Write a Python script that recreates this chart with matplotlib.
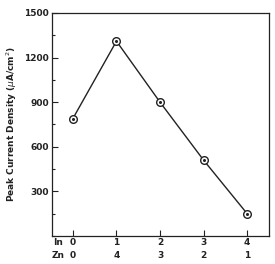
import matplotlib
matplotlib.use("Agg")
import matplotlib.pyplot as plt
from matplotlib.ticker import MultipleLocator

# Data
x_pos = [0, 1, 2, 3, 4]
in_labels = ["0", "1", "2", "3", "4"]
zn_labels = ["0", "4", "3", "2", "1"]
peak_density = [790, 1310, 900, 510, 150]
y_ticks = [300, 600, 900, 1200, 1500]

fig = plt.figure(figsize=(2.75, 2.64), dpi=100)
ax = fig.add_axes([0.189, 0.106, 0.789, 0.845])

ink = "#222222"
ax.plot(x_pos, peak_density, color=ink, lw=1.0, marker="o", ms=5.5,
        mfc="white", mec=ink, mew=1.0, zorder=3)
ax.plot(x_pos, peak_density, ls="none", marker="o", ms=1.2, color=ink, zorder=4)

ax.set_xlim(-0.48, 4.5)
ax.set_ylim(0, 1500)
ax.set_yticks(y_ticks)
ax.set_yticklabels([str(v) for v in y_ticks], fontsize=6.5, fontweight="bold", color=ink)
ax.yaxis.set_minor_locator(MultipleLocator(150))
ax.set_xticks(x_pos)
ax.set_xticklabels([f"{a}\n{b}" for a, b in zip(in_labels, zn_labels)],
                   fontsize=6.5, fontweight="bold", color=ink, linespacing=1.5)
ax.tick_params(axis="both", which="both", direction="in", color=ink, width=0.8)
ax.tick_params(axis="y", which="major", length=4, pad=2)
ax.tick_params(axis="y", which="minor", length=2.5)
ax.tick_params(axis="x", which="major", length=4, pad=1.5)
ax.tick_params(axis="x", which="minor", length=0)
for s in ax.spines.values():
    s.set_color(ink)
    s.set_linewidth(0.9)

# Row captions, aligned with the tick label rows
lbl = ax.get_xticklabels()[0]
fig.canvas.draw()
bb = lbl.get_window_extent()
y_top_axes = ax.transAxes.inverted().transform((0, bb.y1))[1]
ax.text(-0.33, y_top_axes, "In\nZn", transform=ax.get_xaxis_transform(), ha="center", va="top",
        fontsize=6.5, fontweight="bold", color=ink, linespacing=1.5)

ax.set_ylabel("Peak Current Density ($\\mu$A/cm$^2$)", fontsize=6.5, fontweight="bold",
              color=ink, labelpad=4)

fig.savefig("out.png", dpi=100)
